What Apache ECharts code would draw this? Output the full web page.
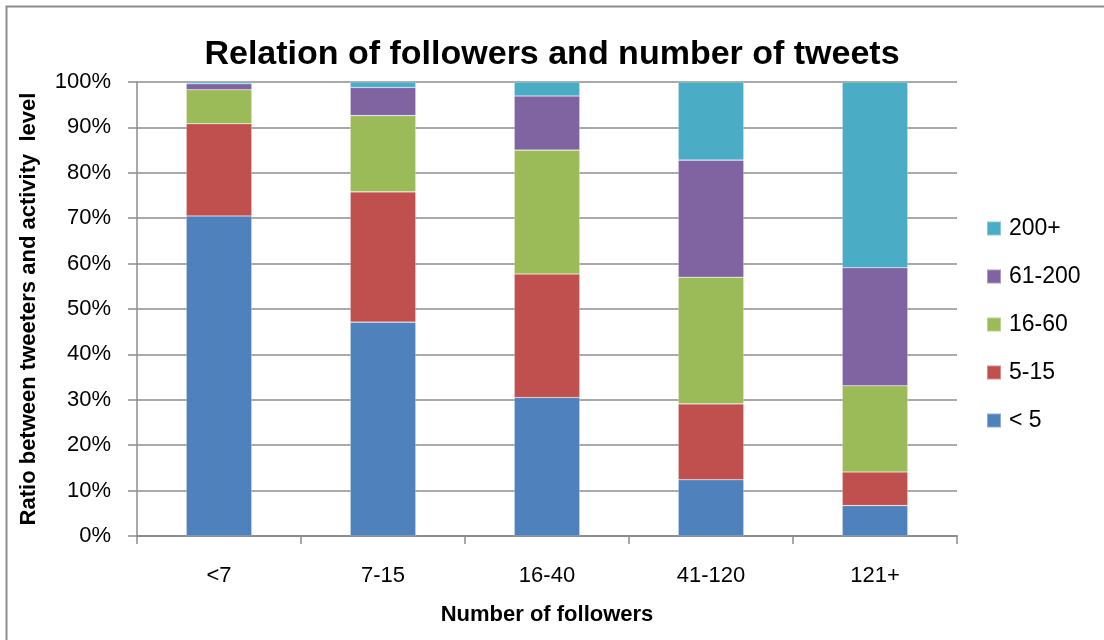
<!DOCTYPE html>
<html>
<head>
<meta charset="utf-8">
<script src="https://cdn.jsdelivr.net/npm/echarts@6/dist/echarts.min.js"></script>
<style>
  html, body { margin: 0; padding: 0; background: #fff; }
  #chart { width: 1104px; height: 640px; }
</style>
</head>
<body>
<div id="chart"></div>
<script>
// Follower buckets (x categories)
const categories = ['<7', '7-15', '16-40', '41-120', '121+'];

// Share of tweeters (%) per activity level, one array per level
const lt5      = [70.5, 47.1, 30.5, 12.4, 6.7];
const s5to15   = [20.3, 28.7, 27.2, 16.7, 7.4];
const s16to60  = [7.5, 16.8, 27.3, 27.9, 19.0];
const s61to200 = [1.3, 6.2, 11.9, 25.8, 26.0];
const s200plus = [0.4, 1.2, 3.1, 17.2, 40.9];

const seriesNames = ['< 5', '5-15', '16-60', '61-200', '200+'];
const seriesData = [lt5, s5to15, s16to60, s61to200, s200plus];
const seriesColors = ['#4F81BD', '#C0504D', '#9BBB59', '#8064A2', '#4BACC6'];

const FONT = 'Liberation Sans, Arial, sans-serif';

const chart = echarts.init(document.getElementById('chart'));

chart.setOption({
  animation: false,
  backgroundColor: '#ffffff',
  title: {
    text: 'Relation of followers and number of tweets',
    left: 'center',
    top: 33,
    textStyle: { fontFamily: FONT, fontSize: 34, fontWeight: 'bold', color: '#000' }
  },
  graphic: [{
    type: 'rect',
    shape: { x: 6.5, y: 6.5, width: 1200, height: 700 },
    style: { fill: 'none', stroke: '#8c8c8c', lineWidth: 2 },
    silent: true
  }],
  legend: {
    orient: 'vertical',
    left: 981,
    top: 212,
    itemWidth: 14,
    itemHeight: 14,
    itemGap: 25,
    icon: 'rect',
    data: seriesNames.slice().reverse(),
    textStyle: { fontFamily: FONT, fontSize: 23, color: '#000', padding: [0, 0, 0, 3] }
  },
  grid: { left: 137, top: 82, width: 820, height: 454 },
  xAxis: {
    type: 'category',
    data: categories,
    name: 'Number of followers',
    nameLocation: 'middle',
    nameGap: 68,
    nameTextStyle: { fontFamily: FONT, fontSize: 22, fontWeight: 'bold', color: '#000' },
    axisLine: { lineStyle: { color: '#8c8c8c', width: 2 } },
    axisTick: { show: true, length: 8, lineStyle: { color: '#8c8c8c', width: 1.5 } },
    axisLabel: { margin: 29, fontFamily: FONT, fontSize: 22, color: '#000' }
  },
  yAxis: {
    type: 'value',
    min: 0,
    max: 100,
    interval: 10,
    name: 'Ratio between tweeters and activity  level',
    nameLocation: 'middle',
    nameRotate: 90,
    nameGap: 97,
    nameTextStyle: { fontFamily: FONT, fontSize: 22, fontWeight: 'bold', color: '#000' },
    axisLine: { show: true, lineStyle: { color: '#8c8c8c', width: 1.5 } },
    axisTick: { show: true, length: 9, lineStyle: { color: '#8c8c8c', width: 1.5 } },
    axisLabel: { margin: 26, fontFamily: FONT, fontSize: 22, color: '#000', formatter: '{value}%' },
    splitLine: { lineStyle: { color: '#8e8e8e', width: 1.5 } }
  },
  series: seriesNames.map((name, i) => ({
    name: name,
    type: 'bar',
    stack: 'total',
    barWidth: '40%',
    data: seriesData[i],
    itemStyle: {
      color: seriesColors[i],
      borderColor: 'rgba(255,255,255,0.35)',
      borderWidth: 0.6
    }
  }))
});
</script>
</body>
</html>
